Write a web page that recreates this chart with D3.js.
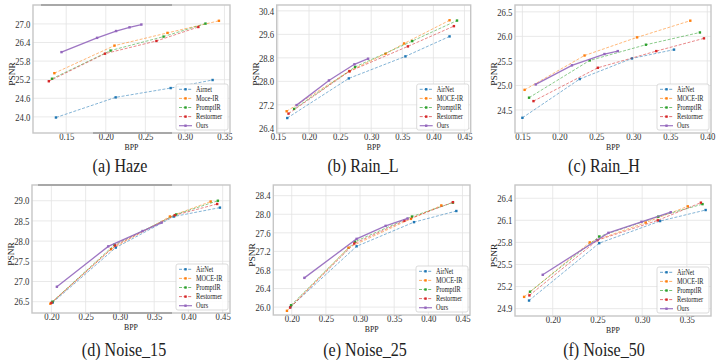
<!DOCTYPE html>
<html><head><meta charset="utf-8">
<script src="https://cdn.jsdelivr.net/npm/d3@7"></script>
<style>body{margin:0;background:#fff}</style>
</head><body><svg id="c" width="720" height="364"></svg>
<script>
// ---------- DATA ----------
const namesHaze = ["Airnet","Moce-IR","PromptIR","Restormer","Ours"];
const namesStd  = ["AirNet","MOCE-IR","PromptIR","Restormer","Ours"];

// (a) Haze  [bpp, psnr]
const hazeXTicks = [0.15,0.20,0.25,0.30,0.35];
const hazeYTicks = [24.0,24.6,25.2,25.8,26.4,27.0];
const hazeAirNet    = [[0.137,23.98],[0.2125,24.63],[0.282,24.93],[0.335,25.19]];
const hazeMoce      = [[0.135,25.41],[0.211,26.30],[0.278,26.71],[0.343,27.10]];
const hazePrompt    = [[0.132,25.23],[0.206,26.14],[0.273,26.59],[0.326,27.01]];
const hazeRestormer = [[0.128,25.15],[0.199,26.04],[0.264,26.45],[0.317,26.90]];
const hazeOurs      = [[0.144,26.09],[0.189,26.55],[0.213,26.77],[0.230,26.89],[0.245,26.98]];

// (b) Rain_L
const rainLXTicks = [0.15,0.20,0.25,0.30,0.35,0.40,0.45];
const rainLYTicks = [26.4,27.2,28.0,28.8,29.6,30.4];
const rainLAirNet    = [[0.165,26.75],[0.264,28.10],[0.355,28.85],[0.426,29.53]];
const rainLMoce      = [[0.164,26.98],[0.265,28.35],[0.323,28.94],[0.353,29.29],[0.426,30.08]];
const rainLPrompt    = [[0.176,27.06],[0.274,28.49],[0.366,29.37],[0.438,30.07]];
const rainLRestormer = [[0.167,26.90],[0.265,28.34],[0.359,29.19],[0.433,29.88]];
const rainLOurs      = [[0.180,27.19],[0.232,28.03],[0.273,28.58],[0.295,28.77]];

// (c) Rain_H
const rainHXTicks = [0.15,0.20,0.25,0.30,0.35,0.40];
const rainHYTicks = [24.5,25.0,25.5,26.0,26.5];
const rainHAirNet    = [[0.150,24.34],[0.2275,25.13],[0.298,25.55],[0.355,25.73]];
const rainHMoce      = [[0.153,24.91],[0.234,25.61],[0.305,25.98],[0.377,26.32]];
const rainHPrompt    = [[0.159,24.75],[0.241,25.51],[0.317,25.83],[0.390,26.08]];
const rainHRestormer = [[0.165,24.68],[0.252,25.36],[0.331,25.70],[0.3955,25.96]];
const rainHOurs      = [[0.168,25.02],[0.217,25.41],[0.261,25.64],[0.279,25.70]];

// (d) Noise_15
const n15XTicks = [0.20,0.25,0.30,0.35,0.40,0.45];
const n15YTicks = [26.5,27.0,27.5,28.0,28.5,29.0];
const n15AirNet    = [[0.202,26.48],[0.294,27.84],[0.379,28.61],[0.446,28.83]];
const n15Moce      = [[0.1985,26.45],[0.287,27.80],[0.373,28.61],[0.4325,28.98]];
const n15Prompt    = [[0.2015,26.50],[0.292,27.91],[0.382,28.66],[0.443,29.00]];
const n15Restormer = [[0.200,26.47],[0.293,27.89],[0.380,28.64],[0.442,28.92]];
const n15Ours      = [[0.208,26.87],[0.283,27.87],[0.333,28.25],[0.361,28.46]];

// (e) Noise_25
const n25XTicks = [0.20,0.25,0.30,0.35,0.40,0.45];
const n25YTicks = [26.0,26.4,26.8,27.2,27.6,28.0,28.4];
const n25AirNet    = [[0.198,26.00],[0.295,27.31],[0.379,27.83],[0.441,28.07]];
const n25Moce      = [[0.193,25.92],[0.283,27.28],[0.3745,27.90],[0.419,28.19]];
const n25Prompt    = [[0.199,26.04],[0.2926,27.41],[0.376,27.95],[0.436,28.25]];
const n25Restormer = [[0.1976,25.99],[0.2916,27.37],[0.365,27.86],[0.436,28.26]];
const n25Ours      = [[0.2185,26.63],[0.295,27.47],[0.3375,27.75],[0.3696,27.91]];

// (f) Noise_50
const n50XTicks = [0.20,0.25,0.30,0.35];
const n50YTicks = [24.9,25.2,25.5,25.8,26.1,26.4];
const n50AirNet    = [[0.1735,25.01],[0.252,25.79],[0.320,26.09],[0.371,26.24]];
const n50Moce      = [[0.168,25.06],[0.2414,25.80],[0.304,26.07],[0.351,26.29]];
const n50Prompt    = [[0.1746,25.13],[0.252,25.88],[0.318,26.15],[0.3675,26.32]];
const n50Restormer = [[0.1739,25.08],[0.250,25.83],[0.3175,26.10],[0.3657,26.34]];
const n50Ours      = [[0.1888,25.36],[0.2623,25.93],[0.2993,26.08],[0.332,26.21]];

// ---------- LAYOUT ----------
const FONT = "Liberation Serif, DejaVu Serif, serif";
const COLORS = ["#1f77b4","#ff7f0e","#2ca02c","#d62728","#9467bd"];
const SX = 0.87;

const panels = [
  {caption:"(a) Haze", box:[33,5,230,133], xDom:[0.108,0.357], yDom:[23.48,27.61],
   xTicks:hazeXTicks, yTicks:hazeYTicks, series:[hazeAirNet,hazeMoce,hazePrompt,hazeRestormer,hazeOurs], names:namesHaze, capX:120, capY:172},
  {caption:"(b) Rain_L", box:[276.7,5,470.7,133], xDom:[0.148,0.460], yDom:[26.24,30.6],
   xTicks:rainLXTicks, yTicks:rainLYTicks, series:[rainLAirNet,rainLMoce,rainLPrompt,rainLRestormer,rainLOurs], names:namesStd, capX:363, capY:172},
  {caption:"(c) Rain_H", box:[515,5,711,133], xDom:[0.140,0.405], yDom:[24.03,26.64],
   xTicks:rainHXTicks, yTicks:rainHYTicks, series:[rainHAirNet,rainHMoce,rainHPrompt,rainHRestormer,rainHOurs], names:namesStd, capX:604, capY:172},
  {caption:"(d) Noise_15", box:[32,185,230,313], xDom:[0.1717,0.4607], yDom:[26.22,29.39],
   xTicks:n15XTicks, yTicks:n15YTicks, series:[n15AirNet,n15Moce,n15Prompt,n15Restormer,n15Ours], names:namesStd, capX:124, capY:356},
  {caption:"(e) Noise_25", box:[273.3,185,470,315], xDom:[0.173,0.461], yDom:[25.83,28.63],
   xTicks:n25XTicks, yTicks:n25YTicks, series:[n25AirNet,n25Moce,n25Prompt,n25Restormer,n25Ours], names:namesStd, capX:365, capY:356},
  {caption:"(f) Noise_50", box:[515,185,711,316], xDom:[0.1578,0.377], yDom:[24.80,26.58],
   xTicks:n50XTicks, yTicks:n50YTicks, series:[n50AirNet,n50Moce,n50Prompt,n50Restormer,n50Ours], names:namesStd, capX:604, capY:356}
];

const svg = d3.select('#c');
svg.append('rect').attr('width',720).attr('height',364).attr('fill','#fff');

function sText(parent, x, y, str, size, anchor){
  return parent.append('text')
    .attr('transform', `translate(${x},${y}) scale(${SX},1)`)
    .style('font-family', FONT).attr('font-size', size)
    .attr('text-anchor', anchor || 'middle').attr('fill', '#222').text(str);
}

panels.forEach(p => {
  const [L,T,R,B] = p.box;
  const x = d3.scaleLinear().domain(p.xDom).range([L,R]);
  const y = d3.scaleLinear().domain(p.yDom).range([B,T]);
  const g = svg.append('g');

  // grid
  g.selectAll(null).data(p.xTicks).join('line')
    .attr('x1',d=>x(d)).attr('x2',d=>x(d)).attr('y1',T).attr('y2',B)
    .attr('stroke','#e3e3e3').attr('stroke-width',0.8);
  g.selectAll(null).data(p.yTicks).join('line')
    .attr('y1',d=>y(d)).attr('y2',d=>y(d)).attr('x1',L).attr('x2',R)
    .attr('stroke','#e3e3e3').attr('stroke-width',0.8);

  // axes
  const ya = g.append('g').attr('transform',`translate(${L},0)`)
    .call(d3.axisLeft(y).tickValues(p.yTicks).tickSize(0).tickPadding(3).tickFormat(d3.format('.1f')));
  ya.select('.domain').remove();
  ya.attr('font-size',10).style('font-family',FONT);
  ya.selectAll('text').attr('fill','#333').attr('transform',`scale(${SX},1)`);

  const xa = g.append('g').attr('transform',`translate(0,${B})`)
    .call(d3.axisBottom(x).tickValues(p.xTicks).tickSize(0).tickPadding(0).tickFormat(d3.format('.2f')));
  xa.select('.domain').remove();
  xa.attr('font-size',10).style('font-family',FONT);
  xa.selectAll('text').attr('fill','#333').attr('transform',`scale(${SX},1)`);

  // axis labels
  sText(g, (L+R)/2, B+16.5, 'BPP', 9);
  g.append('text')
    .attr('transform',`translate(${L-18},${(T+B)/2+5}) rotate(-90) scale(1,${SX})`)
    .style('font-family',FONT).attr('font-size',9.5).attr('text-anchor','middle')
    .attr('fill','#222').text('PSNR');

  // series
  const line = d3.line().x(d=>x(d[0])).y(d=>y(d[1]));
  p.series.forEach((s,i) => {
    const ours = i===4;
    g.append('path').datum(s).attr('d',line).attr('fill','none')
      .attr('stroke',COLORS[i]).attr('stroke-width', ours?1.3:1)
      .attr('stroke-opacity', ours?0.9:0.55)
      .attr('stroke-dasharray', ours?null:'3,1.6');
    g.selectAll(null).data(s).join('rect')
      .attr('x',d=>x(d[0])-1.2).attr('y',d=>y(d[1])-1.2)
      .attr('width',2.4).attr('height',2.4).attr('fill',COLORS[i]);
  });

  // frame
  g.append('rect').attr('x',L).attr('y',T).attr('width',R-L).attr('height',B-T)
    .attr('fill','none').attr('stroke','#c6c6c6').attr('stroke-width',1.4);

  // legend
  const lw=52, lh=46, lx=R-2-lw, ly=B-3-lh;
  const lg = g.append('g');
  lg.append('rect').attr('x',lx).attr('y',ly).attr('width',lw).attr('height',lh).attr('rx',2)
    .attr('fill','#fff').attr('fill-opacity',0.85).attr('stroke','#d2d2d2').attr('stroke-width',0.8);
  p.names.forEach((n,i) => {
    const yy = ly + 5.3 + i*9.1;
    lg.append('line').attr('x1',lx+3).attr('x2',lx+16).attr('y1',yy).attr('y2',yy)
      .attr('stroke',COLORS[i]).attr('stroke-width', i===4?1.2:1)
      .attr('stroke-opacity', i===4?0.9:0.65)
      .attr('stroke-dasharray', i===4?null:'3,1.6');
    lg.append('rect').attr('x',lx+9.5-1.2).attr('y',yy-1.2).attr('width',2.4).attr('height',2.4).attr('fill',COLORS[i]);
    sText(lg, lx+20, yy+2.4, n, 7.2, 'start');
  });

  // caption
  sText(svg, p.capX, p.capY, p.caption, 18.5);
});

// scan artefacts along frames in (a) and (d)
[[41,4,131,2],[93,132,79,2],[38,184,134,2],[90,312,82,2]].forEach(r=>{
  svg.append('rect').attr('x',r[0]).attr('y',r[1]).attr('width',r[2]).attr('height',r[3]).attr('fill','#a8a8a8');
});
</script>
</body></html>
